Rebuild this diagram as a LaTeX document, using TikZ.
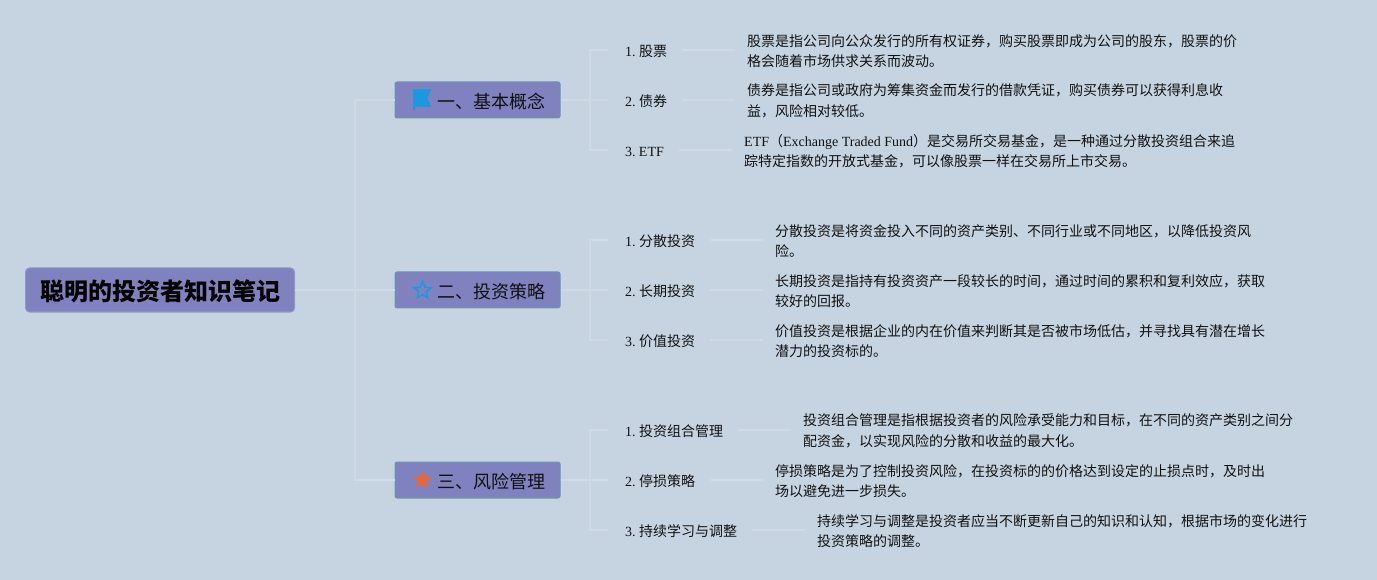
\documentclass[tikz,border=0pt]{standalone}
\usetikzlibrary{shapes.geometric}
\usepackage{fontspec}
\setmainfont{Liberation Serif}
\newfontfamily\cjk{Noto Sans CJK SC}
\newcommand{\zh}[1]{{\cjk #1}}
\newcommand{\num}[1]{#1.\hspace{3.3pt}}
\definecolor{bgc}{HTML}{C6D4E2}
\definecolor{boxc}{HTML}{8082C0}
\definecolor{edgec}{HTML}{6F93AC}
\definecolor{linec}{HTML}{D0DAE5}
\definecolor{textc}{HTML}{111111}
\definecolor{flagc}{HTML}{1A98E0}
\definecolor{orangec}{HTML}{E8663A}
\tikzset{
  x=1pt,y=-1pt,
  rootbox/.style={draw=boxc!85!white,line width=1pt,fill=boxc,rounded corners=4pt,minimum width=269pt,minimum height=44pt,inner sep=0pt,text=black,font=\fontsize{24}{28}\selectfont\bfseries,text height=26pt,text depth=4pt},
  branchbox/.style={draw=edgec,line width=1pt,fill=boxc,rounded corners=2pt,minimum width=165pt,minimum height=36pt,inner sep=0pt,text=textc,font=\fontsize{18}{22}\selectfont,text height=18pt,text depth=1.5pt},
  itemlabel/.style={anchor=west,inner xsep=15pt,inner ysep=2pt,text=textc,font=\fontsize{14}{17}\selectfont,text height=15pt,text depth=2pt},
  desc/.style={anchor=west,inner xsep=12pt,inner ysep=0pt,align=left,text=textc,font=\fontsize{14}{20.4}\selectfont},
  conn/.style={draw=linec,line width=1.6pt},
  staricon/.style={star,star points=5,star point ratio=2.2,minimum size=18pt,inner sep=0pt,line width=1.5pt}
}
\begin{document}
\begin{tikzpicture}
\useasboundingbox (0,0) rectangle (1377,580);
\fill[bgc] (0,0) rectangle (1377,580);

% hubs
\coordinate (hub) at (355,290);
\coordinate (hubA) at (590,100);
\coordinate (hubB) at (590,290);
\coordinate (hubC) at (590,480);

% root and branches
\node[rootbox] (root) at (160,290) {\hspace*{1.5pt}\zh{聪明的投资者知识笔记}};
\node[branchbox] (A) at (477.5,100) {\hspace*{28pt}\zh{一、基本概念}};
\node[branchbox] (B) at (477.5,290) {\hspace*{28pt}\zh{二、投资策略}};
\node[branchbox] (C) at (477.5,480) {\hspace*{28pt}\zh{三、风险管理}};

% items
\node[itemlabel] (a1) at (608,50) {\hspace*{2pt}\num{1}\zh{股票}};
\node[itemlabel] (a2) at (608,100) {\hspace*{2pt}\num{2}\zh{债券}};
\node[itemlabel] (a3) at (608,150) {\hspace*{2pt}\num{3}ETF};
\node[itemlabel] (b1) at (608,240) {\hspace*{2pt}\num{1}\zh{分散投资}};
\node[itemlabel] (b2) at (608,290) {\hspace*{2pt}\num{2}\zh{长期投资}};
\node[itemlabel] (b3) at (608,340) {\hspace*{2pt}\num{3}\zh{价值投资}};
\node[itemlabel] (c1) at (608,430) {\hspace*{2pt}\num{1}\zh{投资组合管理}};
\node[itemlabel] (c2) at (608,480) {\hspace*{2pt}\num{2}\zh{停损策略}};
\node[itemlabel] (c3) at (608,530) {\hspace*{2pt}\num{3}\zh{持续学习与调整}};

% descriptions
\node[desc] (da1) at (735,51) {\zh{股票是指公司向公众发行的所有权证券，购买股票即成为公司的股东，股票的价}\\\zh{格会随着市场供求关系而波动。}};
\node[desc] (da2) at (735,101) {\zh{债券是指公司或政府为筹集资金而发行的借款凭证，购买债券可以获得利息收}\\\zh{益，风险相对较低。}};
\node[desc] (da3) at (732,151) {ETF\zh{（}Exchange Traded Fund\zh{）是交易所交易基金，是一种通过分散投资组合来追}\\\zh{踪特定指数的开放式基金，可以像股票一样在交易所上市交易。}};
\node[desc] (db1) at (763,241) {\zh{分散投资是将资金投入不同的资产类别、不同行业或不同地区，以降低投资风}\\\zh{险。}};
\node[desc] (db2) at (763,291) {\zh{长期投资是指持有投资资产一段较长的时间，通过时间的累积和复利效应，获取}\\\zh{较好的回报。}};
\node[desc] (db3) at (763,341) {\zh{价值投资是根据企业的内在价值来判断其是否被市场低估，并寻找具有潜在增长}\\\zh{潜力的投资标的。}};
\node[desc] (dc1) at (791,431) {\zh{投资组合管理是指根据投资者的风险承受能力和目标，在不同的资产类别之间分}\\\zh{配资金，以实现风险的分散和收益的最大化。}};
\node[desc] (dc2) at (763,481) {\zh{停损策略是为了控制投资风险，在投资标的的价格达到设定的止损点时，及时出}\\\zh{场以避免进一步损失。}};
\node[desc] (dc3) at (805,531) {\zh{持续学习与调整是投资者应当不断更新自己的知识和认知，根据市场的变化进行}\\\zh{投资策略的调整。}};

% connectors
\draw[conn] (root.east) -- (B.west);
\draw[conn] (hub) |- (A.west);
\draw[conn] (hub) |- (C.west);
\foreach \br/\hb/\ia/\ib/\ic in {A/hubA/a1/a2/a3,B/hubB/b1/b2/b3,C/hubC/c1/c2/c3}{
  \draw[conn] (\br.east) -- (\ib.west);
  \draw[conn] (\hb) |- (\ia.west);
  \draw[conn] (\hb) |- (\ic.west);
}
\foreach \i/\d in {a1/da1,a2/da2,a3/da3,b1/db1,b2/db2,b3/db3,c1/dc1,c2/dc2,c3/dc3}{
  \draw[conn] (\i.east) -- (\i.east -| \d.west);
}

% icons
\fill[flagc] (413,89.5) -- (431.5,89.5) -- (427,98) -- (431.5,107) -- (415,107) -- (415,110) -- (413,110) -- cycle;
\node[draw=flagc,fill=none,staricon] (starB) at (422.5,290.5) {};
\node[draw=orangec,fill=orangec,staricon,line width=0.5pt] (starC) at (422.5,480.5) {};
\end{tikzpicture}
\end{document}
